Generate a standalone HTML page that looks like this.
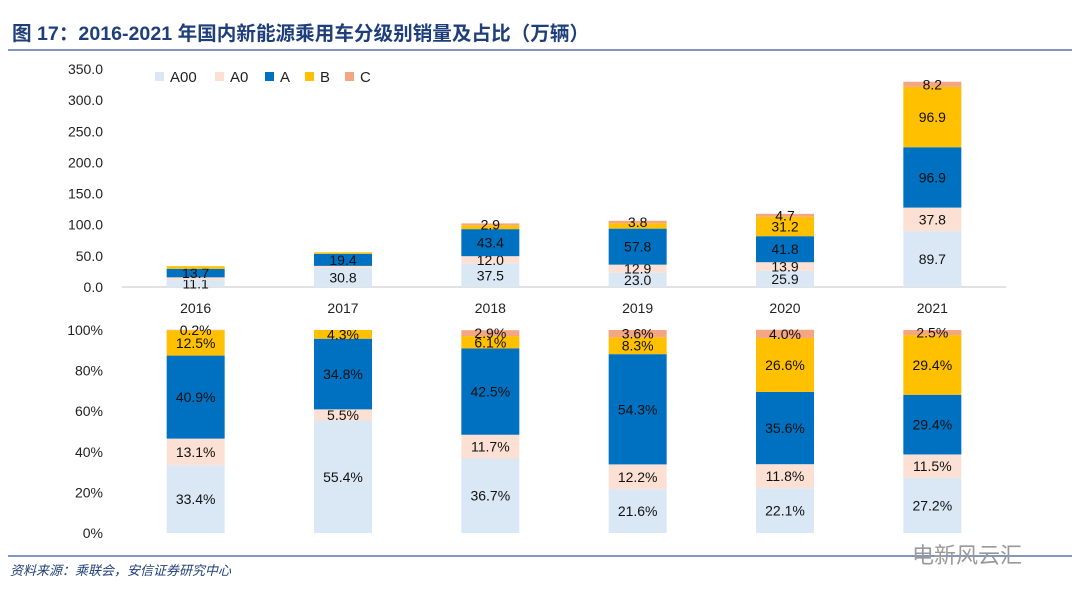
<!DOCTYPE html>
<html><head><meta charset="utf-8"><style>
body{margin:0;width:1080px;height:603px;background:#fff;overflow:hidden;font-family:"Liberation Sans","Noto Sans CJK SC",sans-serif}
svg text{font-family:"Liberation Sans","Noto Sans CJK SC",sans-serif}
</style></head><body>
<svg id="c" width="1080" height="603">
<text x="12" y="40" font-size="19.6" font-weight="bold" fill="#1F3F7A">图 17：2016-2021 年国内新能源乘用车分级别销量及占比（万辆）</text>
<line x1="8" y1="50" x2="1072" y2="50" stroke="#5A75A8" stroke-width="1.5"/>
<line x1="8" y1="556" x2="1072" y2="556" stroke="#5A75A8" stroke-width="1.5"/>
<text x="10" y="575" font-size="13" font-style="italic" fill="#1F3F7A">资料来源：乘联会，安信证券研究中心</text>
<text x="912" y="563" font-size="22" fill="#999">电新风云汇</text>
<g id="legend"></g>
<g id="top"></g>
<g id="bot"></g>
</svg>
<script>
const years=["2016","2017","2018","2019","2020","2021"];
const seriesNames=["A00","A0","A","B","C"];
const colors=["#DAE8F5","#FCE0D3","#0070C0","#FFC000","#F4A582"];
const vA00=[11.1,30.8,37.5,23.0,25.9,89.7];
const vA0=[4.4,3.1,12.0,12.9,13.9,37.8];
const vA=[13.7,19.4,43.4,57.8,41.8,96.9];
const vB=[4.2,2.4,6.3,8.8,31.2,96.9];
const vC=[0.07,0,2.9,3.8,4.7,8.2];
const pA00=[33.4,55.4,36.7,21.6,22.1,27.2];
const pA0=[13.1,5.5,11.7,12.2,11.8,11.5];
const pA=[40.9,34.8,42.5,54.3,35.6,29.4];
const pB=[12.5,4.3,6.1,8.3,26.6,29.4];
const pC=[0.2,0,2.9,3.6,4.0,2.5];
const vShow=[[1,1,1,1,1,1],[0,0,1,1,1,1],[1,1,1,1,1,1],[0,0,0,0,1,1],[0,0,1,1,1,1]];
const pShow=[[1,1,1,1,1,1],[1,1,1,1,1,1],[1,1,1,1,1,1],[1,1,1,1,1,1],[1,0,1,1,1,1]];
const topTicks=[0,50,100,150,200,250,300,350];
const botTicks=[0,20,40,60,80,100];
const NS="http://www.w3.org/2000/svg";
function mk(p,t,a){const e=document.createElementNS(NS,t);for(const k in a)e.setAttribute(k,a[k]);p.appendChild(e);return e;}
const x0=122,x1=1006,bw=58;
function xc(i){return x0+(x1-x0)/years.length*(i+0.5);}
function yTop(v){return 287-v*218/350;}
function yBot(v){return 533-v*203/100;}
function draw(g,vals,show,yf,ticks,fmt,lblfmt){
  ticks.forEach(t=>{const e=mk(g,'text',{x:103,y:yf(t)+5,'font-size':14,'text-anchor':'end',fill:'#222'});e.textContent=fmt(t);
  
  });
  years.forEach((yr,i)=>{let cum=0;
    vals.forEach((s,k)=>{const v=s[i];const ya=yf(cum),yb=yf(cum+v);cum+=v;
      if(v<=0)return;
      const r=mk(g,'rect',{x:xc(i)-bw/2,y:yb,width:bw,height:Math.max(0,ya-yb),fill:colors[k]});
      
      
      if(show[k][i]){const t=mk(g,'text',{x:xc(i),y:(ya+yb)/2+5,'font-size':14,'text-anchor':'middle',fill:'#111'});t.textContent=lblfmt(v);
      
      }
    });
  });
}
const tg=document.getElementById('top');
mk(tg,'line',{x1:x0,y1:287,x2:x1,y2:287,stroke:'#D9D9D9','stroke-width':1.5});
draw(tg,[vA00,vA0,vA,vB,vC],vShow,yTop,topTicks,t=>t.toFixed(1),v=>v.toFixed(1));
years.forEach((yr,i)=>{const t=mk(tg,'text',{x:xc(i),y:313,'font-size':14,'text-anchor':'middle',fill:'#222'});t.textContent=yr;

});
const bg=document.getElementById('bot');
draw(bg,[pA00,pA0,pA,pB,pC],pShow,yBot,botTicks,t=>t+'%',v=>v.toFixed(1)+'%');
const lg=document.getElementById('legend');
let lx=155;
seriesNames.forEach((n,k)=>{mk(lg,'rect',{x:lx,y:72,width:9,height:9,fill:colors[k]});
const t=mk(lg,'text',{x:lx+15,y:82,'font-size':15,fill:'#222'});t.textContent=n;


lx+=15+n.length*10+15;});
</script>
</body></html>
